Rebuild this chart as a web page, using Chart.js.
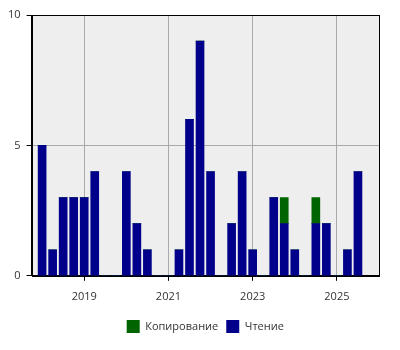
<!DOCTYPE html>
<html>
<head>
<meta charset="utf-8">
<script src="https://cdn.jsdelivr.net/npm/chart.js@4"></script>
<style>
  html, body { margin: 0; padding: 0; background: #fff; }
  #wrap { width: 400px; height: 350px; }
</style>
</head>
<body>
<div id="wrap"><canvas id="chart"></canvas></div>
<script>
// quarters, as decimal years (2018.0 = 2018 Q1)
const quarters = [
  2018.0, 2018.25, 2018.5, 2018.75,
  2019.0, 2019.25, 2019.5, 2019.75,
  2020.0, 2020.25, 2020.5, 2020.75,
  2021.0, 2021.25, 2021.5, 2021.75,
  2022.0, 2022.25, 2022.5, 2022.75,
  2023.0, 2023.25, 2023.5, 2023.75,
  2024.0, 2024.25, 2024.5, 2024.75,
  2025.0, 2025.25, 2025.5
];
const reading = [5, 1, 3, 3, 3, 4, 0, 0, 4, 2, 1, 0, 0, 1, 6, 9, 4, 0, 2, 4, 1, 0, 3, 2, 1, 0, 2, 2, 0, 1, 4];
const copying = [0, 0, 0, 0, 0, 0, 0, 0, 0, 0, 0, 0, 0, 0, 0, 0, 0, 0, 0, 0, 0, 0, 0, 1, 0, 0, 1, 0, 0, 0, 0];
const xTicks = [2019, 2021, 2023, 2025];
const yTicks = [0, 5, 10];

const plotBg = {
  id: 'plotBg',
  beforeDraw(chart) {
    const a = chart.chartArea, c = chart.ctx;
    c.save();
    c.fillStyle = '#eeeeee';
    c.fillRect(a.left, a.top, a.right - a.left, a.bottom - a.top);
    c.restore();
  },
  afterDraw(chart) {
    const a = chart.chartArea, c = chart.ctx;
    c.save();
    c.strokeStyle = '#000';
    c.lineWidth = 1;
    c.strokeRect(Math.round(a.left) + 0.5, Math.round(a.top) + 0.5, Math.round(a.right - a.left), Math.round(a.bottom - a.top));
    c.restore();
  }
};

const font = { family: 'Open Sans', size: 11 };

new Chart(document.getElementById('chart'), {
  type: 'bar',
  data: {
    datasets: [
      {
        label: 'Чтение',
        data: quarters.map((q, i) => ({ x: q, y: reading[i] })),
        backgroundColor: '#00008b',
        barThickness: 8
      },
      {
        label: 'Копирование',
        data: quarters.map((q, i) => ({ x: q, y: copying[i] })),
        backgroundColor: '#006400',
        barThickness: 8
      }
    ]
  },
  options: {
    responsive: true,
    maintainAspectRatio: false,
    animation: false,
    layout: { padding: { top: 15, right: 21, left: 2, bottom: 7 } },
    plugins: {
      tooltip: { enabled: false },
      legend: {
        position: 'bottom',
        reverse: true,
        fullSize: false,
        labels: { font: font, color: '#333', boxWidth: 13, boxHeight: 13, padding: 8 }
      }
    },
    scales: {
      x: {
        type: 'linear',
        stacked: true,
        offset: false,
        min: 2017.75,
        max: 2026,
        afterBuildTicks: s => { s.ticks = xTicks.map(v => ({ value: v })); },
        ticks: { font: font, color: '#333', callback: v => String(v), maxRotation: 0, padding: 9 },
        grid: { color: '#aaaaaa', tickColor: '#000', tickLength: 5, offset: false },
        border: { color: '#000' }
      },
      y: {
        stacked: true,
        min: 0,
        max: 10,
        afterBuildTicks: s => { s.ticks = yTicks.map(v => ({ value: v })); },
        ticks: { font: font, color: '#333', padding: 6 },
        grid: { color: '#aaaaaa', tickColor: '#000', tickLength: 5 },
        border: { color: '#000' }
      }
    }
  },
  plugins: [plotBg]
});
</script>
</body>
</html>
